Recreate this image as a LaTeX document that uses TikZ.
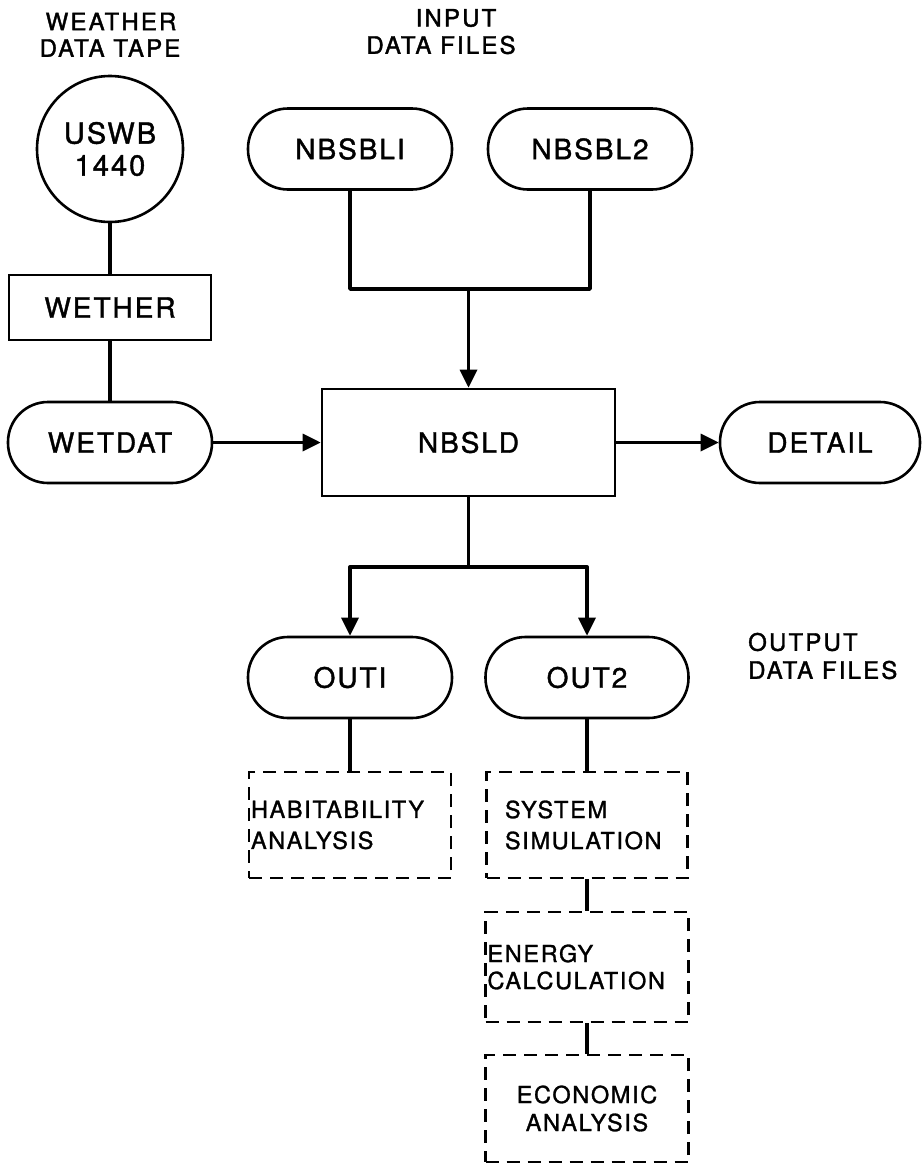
\documentclass[tikz,border=0pt]{standalone}
\usepackage{fontspec}
\usetikzlibrary{arrows.meta,calc}
\newfontfamily\mainlab[LetterSpace=7,FakeBold=1.3]{TeX Gyre Heros}
\newfontfamily\titlelab[LetterSpace=9,FakeBold=1.6]{TeX Gyre Heros}
\tikzset{
  pill/.style={draw, line width=2.6pt, rounded corners=40pt, minimum width=204pt, minimum height=81pt, inner sep=0pt,
    font=\mainlab\fontsize{28}{30}\selectfont},
  solidbox/.style={draw, line width=2.6pt, inner sep=0pt, font=\mainlab\fontsize{28}{30}\selectfont},
  dbox/.style={draw, line width=2.8pt, dash pattern=on 13pt off 8pt, inner ysep=0pt, minimum height=106pt},
  dtext/.style={font=\mainlab\fontsize{23.5}{31}\selectfont},
  title/.style={font=\titlelab\fontsize{24}{28}\selectfont, inner sep=0pt},
  conn/.style={line width=3.4pt, line join=round},
  arr/.style={line width=3.4pt, line join=round, -{Triangle[length=18pt,width=17pt]}}
}
\begin{document}
\begin{tikzpicture}[x=1pt,y=-1pt]
\useasboundingbox (0,0) rectangle (923,1165);
% titles
\node[title] (tw1) at (111,21.5) {WEATHER};
\node[title] (tw2) at (110,48) {DATA TAPE};
\node[title] (ti1) at (456,18) {INPUT};
\node[title] (ti2) at (441,45) {DATA FILES};
\node[title, anchor=west] (to1) at (748,642) {OUTPUT};
\node[title, anchor=west] (to2) at (748,670) {DATA FILES};
% nodes
\node[draw, circle, line width=2.6pt, minimum size=146pt, inner sep=0pt, align=center,
  font=\mainlab\fontsize{29}{32}\selectfont] (uswb) at (110,149) {USWB\\1440};
\node[solidbox, minimum width=202pt, minimum height=65pt] (wether) at (110,307.5) {WETHER};
\node[pill] (wetdat) at (110,442.5) {WETDAT};
\node[solidbox, minimum width=293pt, minimum height=107pt] (nbsld) at (468.5,442.5) {NBSLD};
\node[pill, minimum width=200pt] (detail) at (820,442.5) {DETAIL};
\node[pill] (nbsbl1) at (350,149) {NBSBLI};
\node[pill] (nbsbl2) at (590,149) {NBSBL2};
\node[pill] (out1) at (350,677.5) {OUTI};
\node[pill, minimum width=203pt] (out2) at (587,677.5) {OUT2};
\node[dbox, dtext, text width=198pt, inner xsep=2pt, align=left] (hab) at (350,825) {HABITABILITY\\ANALYSIS};
\node[dbox, dtext, text width=164pt, inner xsep=18.5pt, align=left] (sys) at (587,825) {SYSTEM\\SIMULATION};
\node[dbox, font=\mainlab\fontsize{23.5}{27}\selectfont, text width=199pt, inner xsep=2pt, align=left, minimum height=110pt] (energy) at (587,967) {ENERGY\\CALCULATION};
\node[dbox, font=\mainlab\fontsize{23.5}{28}\selectfont, text width=199pt, inner xsep=2pt, align=center, minimum height=107pt] (econ) at (587,1108.5) {ECONOMIC\\ANALYSIS};
% connectors
\coordinate (j1) at (468.5,289);
\coordinate (j2) at (468.5,567);
\draw[conn] (uswb.south) -- ($(uswb.south)!0.5!(wether.north)$) -- (wether.north);
\draw[conn] (wether.south) -- ($(wether.south)!0.5!(wetdat.north)$) -- (wetdat.north);
\draw[conn] (nbsbl1) |- (j1) -| (nbsbl2);
\draw[arr] (j1) -- ($(j1)!0.5!(nbsld.north)$) -- (nbsld.north);
\draw[arr] (wetdat.east) -- ($(wetdat.east)!0.5!(nbsld.west)$) -- (nbsld.west);
\draw[arr] (nbsld.east) -- ($(nbsld.east)!0.5!(detail.west)$) -- (detail.west);
\draw[conn] (nbsld.south) -- ($(nbsld.south)!0.5!(j2)$) -- (j2);
\draw[arr] (j2) -| (out1);
\draw[arr] (j2) -| (out2);
\draw[conn] (out1.south) -- ($(out1.south)!0.5!(hab.north)$) -- (hab.north);
\draw[conn] (out2.south) -- ($(out2.south)!0.5!(sys.north)$) -- (sys.north);
\draw[conn] (sys.south) -- ($(sys.south)!0.5!(energy.north)$) -- (energy.north);
\draw[conn] (energy.south) -- ($(energy.south)!0.5!(econ.north)$) -- (econ.north);
\end{tikzpicture}
\end{document}
